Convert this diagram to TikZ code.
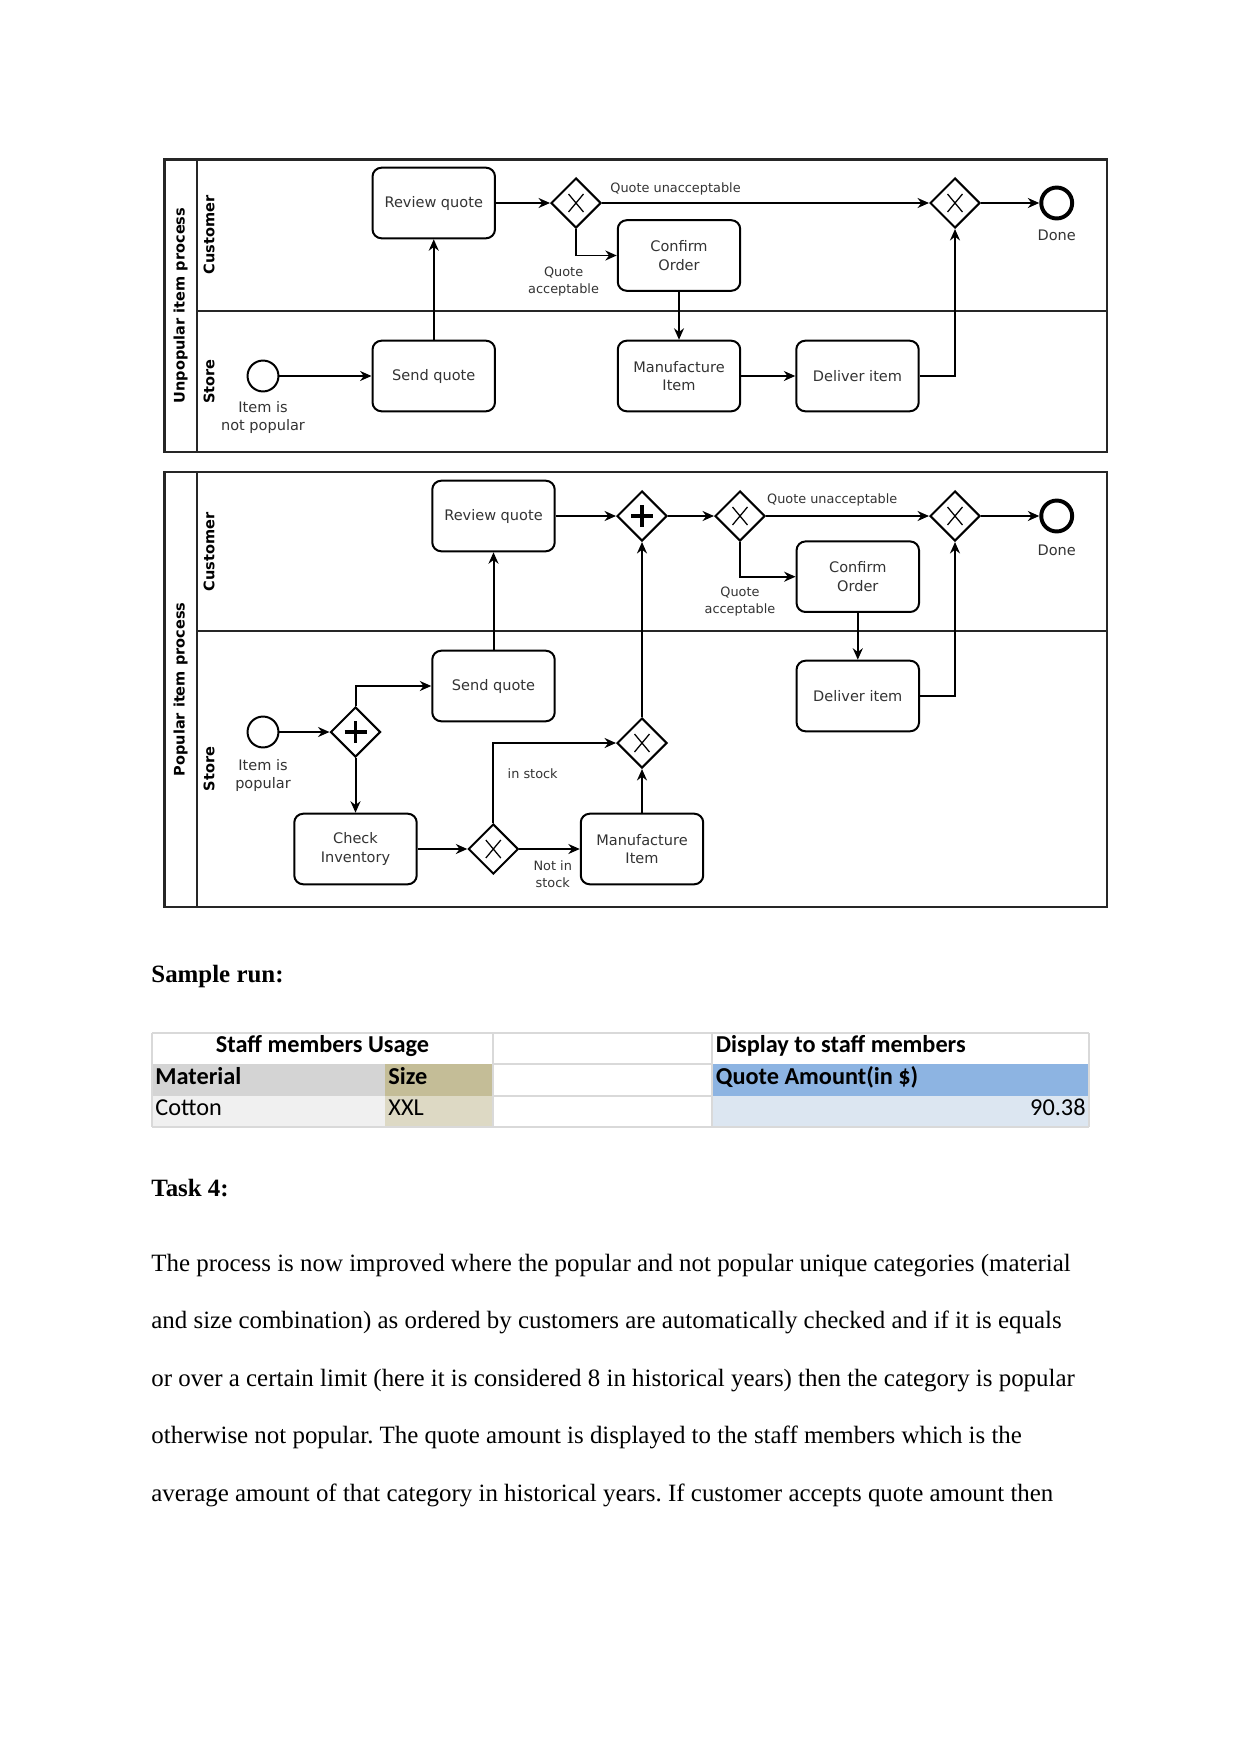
\documentclass[tikz,border=0pt]{standalone}
\usepackage{fontspec}
\setmainfont{Liberation Serif}
\newfontfamily\dv{DejaVu Sans}
\newfontfamily\calib{Carlito}
\usetikzlibrary{shapes.geometric,arrows.meta}
\frenchspacing
\definecolor{txt}{HTML}{333333}
\definecolor{matgray}{HTML}{D4D4D4}
\definecolor{sizetan}{HTML}{C4BD97}
\definecolor{qblue}{HTML}{8DB4E2}
\definecolor{cottongray}{HTML}{F0F0F0}
\definecolor{xxltan}{HTML}{DDD9C4}
\definecolor{lblue}{HTML}{DCE6F1}
\definecolor{gridc}{HTML}{D9D9D9}
\newcommand\gwx[1]{\draw[line width=0.6pt] ([shift={(-7.5,-9)}]#1.center) -- ([shift={(7.5,9)}]#1.center) ([shift={(-7.5,9)}]#1.center) -- ([shift={(7.5,-9)}]#1.center);}
\newcommand\gwplus[1]{\draw[line width=1.9pt] ([shift={(-11,0)}]#1.center) -- ([shift={(11,0)}]#1.center) ([shift={(0,-11)}]#1.center) -- ([shift={(0,11)}]#1.center);}
\tikzset{
  task/.style={draw, rounded corners=4.3pt, minimum width=59pt, minimum height=34pt, align=center, font=\dv\fontsize{7}{8.8}\selectfont, text=txt, line width=0.96pt, inner sep=1pt},
  gw/.style={draw, diamond, minimum width=24.1pt, minimum height=24.1pt, inner sep=0pt, line width=0.96pt},
  ev/.style={draw, circle, minimum size=14.9pt, inner sep=0pt, line width=0.96pt},
  endev/.style={draw, circle, minimum size=14.9pt, inner sep=0pt, line width=1.9pt},
  flow/.style={-{Stealth[length=5.5pt,width=4.8pt]}, line width=0.96pt},
  lbl/.style={font=\dv\fontsize{6.2}{8.3}\selectfont, text=txt, align=center, inner sep=0pt},
  evl/.style={font=\dv\fontsize{7}{9}\selectfont, text=txt, align=center, inner sep=0pt},
  pooll/.style={font=\dv\bfseries\fontsize{7}{8}\selectfont, rotate=90, inner sep=0pt},
  frame/.style={line width=1.1pt, draw=black!85},
  tcell/.style={font=\calib\fontsize{11.7}{13}\selectfont, inner sep=0pt, anchor=base west},
  tcellb/.style={font=\calib\bfseries\fontsize{11.7}{13}\selectfont, inner sep=0pt, anchor=base west},
  para/.style={font=\fontsize{12}{14}\selectfont, inner sep=0pt, anchor=base west},
}
\begin{document}
\begin{tikzpicture}[x=0.48176pt,y=-0.48176pt]
\path[use as bounding box, fill=white] (0,0) rectangle (1241,1754);

% ---------- Unpopular item process ----------
\draw[frame] (164.5,159.5) rectangle (1107,452);
\draw[frame] (197,159.5) -- (197,452);
\draw[frame] (197,311) -- (1107,311);
\node[pooll] (p1lab) at (180.5,305.5) {Unpopular item process};
\node[pooll] (l1c) at (209,235) {Customer};
\node[pooll] (l1s) at (209,381.5) {Store};

\node[task] (rq1) at (433.75,203) {Review quote};
\node[task] (sq1) at (433.75,376) {Send quote};
\node[ev] (st1) at (263,376) {};
\node[gw] (g1) at (576,203) {};
\node[task] (co1) at (679,255.5) {Confirm\\Order};
\node[task] (mi1) at (679,376) {Manufacture\\Item};
\node[task] (di1) at (857.5,376) {Deliver item};
\node[gw] (g2) at (955,203) {};
\node[endev] (en1) at (1056.7,203) {};
\gwx{g1}\gwx{g2}

\node[evl] (t1) at (263,417.5) {Item is\\not popular};
\node[evl] (d1) at (1056.7,235) {Done};
\node[lbl, anchor=west] (qu1) at (610,189) {Quote unacceptable};
\node[lbl] (qa1) at (563.6,281.7) {Quote\\acceptable};

\draw[flow] (st1) -- (sq1);
\draw[flow] (sq1) -- (rq1);
\draw[flow] (rq1) -- (g1);
\draw[flow] (g1) -- (g2);
\draw[flow] (g1.south) |- (co1.west);
\draw[flow] (g2) -- (en1);
\draw[flow] (co1) -- (mi1);
\draw[flow] (mi1) -- (di1);
\draw[flow] (di1.east) -| (g2.south);

% ---------- Popular item process ----------
\draw[frame] (164.5,472.3) rectangle (1107,906.7);
\draw[frame] (197,472.3) -- (197,906.7);
\draw[frame] (197,631) -- (1107,631);
\node[pooll] (p2lab) at (180.5,689.5) {Popular item process};
\node[pooll] (l2c) at (209,552) {Customer};
\node[pooll] (l2s) at (209,769) {Store};

\node[task] (rq2) at (493.5,516) {Review quote};
\node[gw] (p1) at (642,516) {};
\node[gw] (g3) at (740,516) {};
\node[gw] (g4) at (955,516) {};
\node[endev] (en2) at (1056.7,516) {};
\node[task] (co2) at (857.8,576.7) {Confirm\\Order};
\node[task] (di2) at (857.8,696) {Deliver item};
\node[task] (sq2) at (493.5,686) {Send quote};
\node[ev] (st2) at (263,732) {};
\node[gw] (p2) at (355.5,732) {};
\node[task] (ci2) at (355.5,849) {Check\\Inventory};
\node[gw] (g5) at (493.3,849) {};
\node[task] (mi2) at (642,849) {Manufacture\\Item};
\node[gw] (g6) at (642,743) {};
\gwplus{p1}\gwplus{p2}
\gwx{g3}\gwx{g4}\gwx{g5}\gwx{g6}

\node[evl] (t2) at (263,775.5) {Item is\\popular};
\node[evl] (d2) at (1056.7,550) {Done};
\node[lbl, anchor=west] (qu2) at (766.7,500) {Quote unacceptable};
\node[lbl] (qa2) at (740,601.5) {Quote\\acceptable};
\node[lbl] (ns) at (552.8,874.5) {Not in\\stock};
\node[lbl] (is) at (532.7,773.3) {in stock};

\draw[flow] (rq2) -- (p1);
\draw[flow] (p1) -- (g3);
\draw[flow] (g3) -- (g4);
\draw[flow] (g3.south) |- (co2.west);
\draw[flow] (g4) -- (en2);
\draw[flow] (co2) -- (di2);
\draw[flow] (di2.east) -| (g4.south);
\draw[flow] (st2) -- (p2);
\draw[flow] (p2.north) |- (sq2.west);
\draw[flow] (p2.south) -- (ci2.north);
\draw[flow] (sq2) -- (rq2);
\draw[flow] (ci2) -- (g5);
\draw[flow] (g5) -- (mi2);
\draw[flow] (g5.north) |- (g6.west);
\draw[flow] (mi2) -- (g6);
\draw[flow] (g6) -- (p1);

% ---------- Sample run ----------
\node[para, font=\bfseries\fontsize{12}{14}\selectfont] (sr) at (151,982) {Sample run:};

\fill[matgray] (152,1064) rectangle (385,1096);
\fill[sizetan] (385,1064) rectangle (493,1096);
\fill[qblue] (712,1064) rectangle (1089,1096);
\fill[cottongray] (152,1096) rectangle (385,1127);
\fill[xxltan] (385,1096) rectangle (493,1127);
\fill[lblue] (712,1096) rectangle (1089,1127);
\draw[gridc, line width=0.5pt] (152,1033) -- (1089,1033) (152,1127) -- (1089,1127)
  (152,1033) -- (152,1127) (1089,1033) -- (1089,1127)
  (493,1033) -- (493,1127) (712,1033) -- (712,1127)
  (493,1064) -- (712,1064) (493,1096) -- (712,1096);
\node[tcellb, anchor=base] (h1) at (322.5,1052.7) {Staff members Usage};
\node[tcellb] (h2) at (715.5,1052.7) {Display to staff members};
\node[tcellb] (c1) at (155,1084.3) {Material};
\node[tcellb] (c2) at (388,1084.3) {Size};
\node[tcellb] (c3) at (715.5,1084.3) {Quote Amount(in \$)};
\node[tcell] (v1) at (155,1115.7) {Cotton};
\node[tcell] (v2) at (388,1115.7) {XXL};
\node[tcell, anchor=base east] (v3) at (1086,1115.7) {90.38};

% ---------- Task 4 ----------
\node[para, font=\bfseries\fontsize{12}{14}\selectfont] (t4) at (151,1196) {Task 4:};
\node[para] (pl1) at (151,1271) {The process is now improved where the popular and not popular unique categories (material};
\node[para] (pl2) at (151,1328.6) {and size combination) as ordered by customers are automatically checked and if it is equals};
\node[para] (pl3) at (151,1386.2) {or over a certain limit (here it is considered 8 in historical years) then the category is popular};
\node[para] (pl4) at (151,1443.8) {otherwise not popular. The quote amount is displayed to the staff members which is the};
\node[para] (pl5) at (151,1501.4) {average amount of that category in historical years. If customer accepts quote amount then};
\end{tikzpicture}
\end{document}
